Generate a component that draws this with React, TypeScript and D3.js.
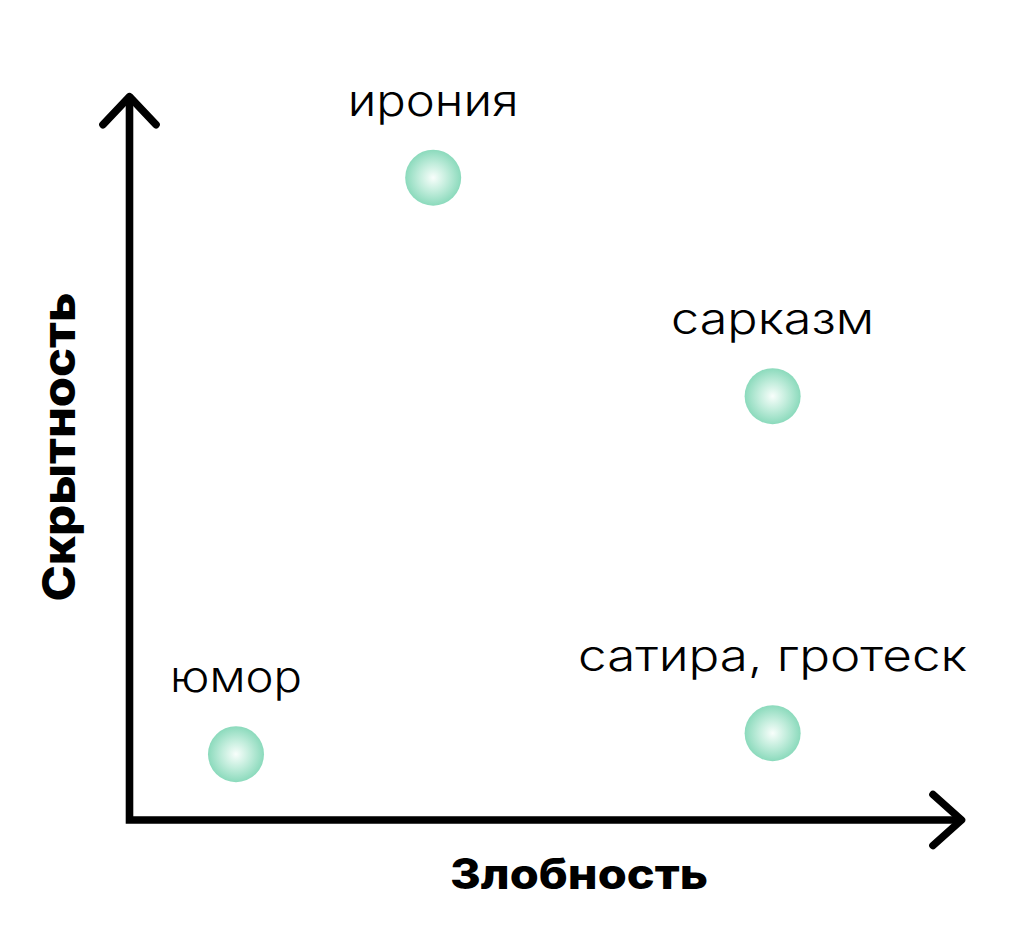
import React from "react";
import * as d3 from "d3";

const labels = ["юмор", "ирония", "сарказм", "сатира, гротеск"];
const malice = [1.28, 3.65, 7.73, 7.73]; // Злобность
const hiddenness = [0.91, 8.88, 5.86, 1.2]; // Скрытность
const xTitle = "Злобность";
const yTitle = "Скрытность";

const W = 1024;
const H = 941;

export default function App() {
  const x = d3.scaleLinear().domain([0, 10]).range([129.5, 961.5]);
  const y = d3.scaleLinear().domain([0, 10]).range([820, 96.7]);
  const x0 = x(0), y0 = y(0), xMax = x(10), yMax = y(10);
  const line = d3.line();
  const axisPath = line([[x0, yMax], [x0, y0], [xMax, y0]]) as string;
  const yArrow = line([[x0 - 26.5, yMax + 28], [x0, yMax], [x0 + 26.5, yMax + 28]]) as string;
  const xArrow = line([[xMax - 28.5, y0 - 25.5], [xMax, y0], [xMax - 28.5, y0 + 25.5]]) as string;
  const font = "Inter, sans-serif";
  const widths: Record<string, number> = {
    "юмор": 132,
    "ирония": 171,
    "сарказм": 203,
    "сатира, гротеск": 389,
  };
  return (
    <svg width={W} height={H} viewBox={`0 0 ${W} ${H}`} style={{ position: "absolute", left: 0, top: 0, background: "#fff" }}>
      <defs>
        <radialGradient id="ball" cx="50%" cy="50%" r="50%">
          <stop offset="0%" stopColor="#f8fefb" />
          <stop offset="50%" stopColor="#c2eddc" />
          <stop offset="100%" stopColor="#8bdabc" />
        </radialGradient>
      </defs>
      <path d={axisPath} fill="none" stroke="#000" strokeWidth={7.6} strokeLinejoin="miter" />
      <path d={yArrow} fill="none" stroke="#000" strokeWidth={7.6} strokeLinecap="round" strokeLinejoin="round" />
      <path d={xArrow} fill="none" stroke="#000" strokeWidth={7.6} strokeLinecap="round" strokeLinejoin="round" />
      {labels.map((l, i) => (
        <g key={l}>
          <circle cx={x(malice[i])} cy={y(hiddenness[i])} r={28} fill="url(#ball)" />
          <text
            x={x(malice[i])}
            y={y(hiddenness[i]) - 62}
            textAnchor="middle"
            fontFamily={font}
            fontSize={43}
            fontWeight={300}
            fill="#000"
            textLength={widths[l]}
            lengthAdjust="spacingAndGlyphs"
          >
            {l}
          </text>
        </g>
      ))}
      <text
        x={579}
        y={889}
        textAnchor="middle"
        fontFamily={font}
        fontSize={42}
        fontWeight={800}
        fill="#000"
        textLength={258}
        lengthAdjust="spacingAndGlyphs"
      >
        {xTitle}
      </text>
      <text
        transform={`translate(75, 447) rotate(-90)`}
        textAnchor="middle"
        fontFamily={font}
        fontSize={45}
        fontWeight={800}
        fill="#000"
        textLength={309}
        lengthAdjust="spacingAndGlyphs"
      >
        {yTitle}
      </text>
    </svg>
  );
}
